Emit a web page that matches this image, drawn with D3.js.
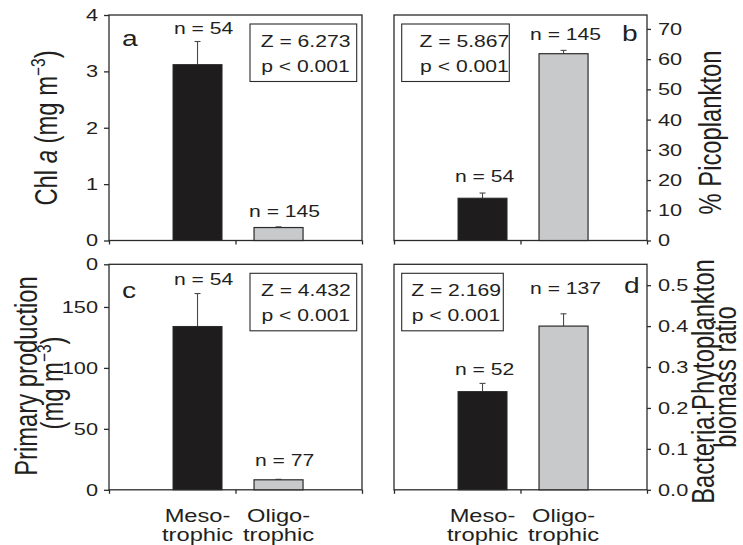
<!DOCTYPE html>
<html>
<head>
<style>
    body { margin: 0; background: white; }
    text { font-family: "Liberation Sans", Arial, Helvetica, sans-serif; fill: #231f20; }
    .frame { fill: none; stroke: #2b2b2b; stroke-width: 1.3; }
    .axis line { stroke: #2b2b2b; stroke-width: 1.3; }
    .axis path { display: none; }
    .meso { fill: #1e1c1c; stroke: #2b2b2b; stroke-width: 1; }
    .oligo { fill: #c8c9cb; stroke: #2b2b2b; stroke-width: 1.2; }
    .err { stroke: #4a4a4a; stroke-width: 1.1; }
    .statbox { fill: white; stroke: #2b2b2b; stroke-width: 1.1; }
</style>
</head>
<body>
<div id="plateau"></div>
<script src="https://cdn.jsdelivr.net/npm/d3@7"></script>
<script>

//////////////////// data ////////////////////
let categories = ['Meso-trophic', 'Oligo-trophic'];
let cat_lines = [['Meso-', 'trophic'], ['Oligo-', 'trophic']];

// a : Chl a
let chl_mean = [3.12, 0.23];
let chl_se = [0.41, 0.012];
let chl_n = [54, 145];
let chl_ticks = [0, 1, 2, 3, 4];
let chl_tick_labels = ['0', '1', '2', '3', '4'];
let chl_max = 4;

// b : % picoplankton
let pico_mean = [14.0, 61.8];
let pico_se = [1.7, 1.1];
let pico_n = [54, 145];
let pico_ticks = [0, 10, 20, 30, 40, 50, 60, 70];
let pico_tick_labels = ['0', '10', '20', '30', '40', '50', '60', '70'];
let pico_max = 74.6;

// c : primary production
let pp_mean = [134, 8.2];
let pp_se = [27, 0.4];
let pp_n = [54, 77];
let pp_ticks = [0, 50, 100, 150, 185];
let pp_tick_labels = ['0', '50', '100', '150', '0'];
let pp_max = 185;

// d : bacteria:phytoplankton
let bp_mean = [0.24, 0.40];
let bp_se = [0.02, 0.03];
let bp_n = [52, 137];
let bp_ticks = [0, 0.1, 0.2, 0.3, 0.4, 0.5];
let bp_tick_labels = ['0.0', '0.1', '0.2', '0.3', '0.4', '0.5'];
let bp_max = 0.551;

let z_values = [6.273, 5.867, 4.432, 2.169];
let p_label = 'p < 0.001';

//////////////////// layout ////////////////////
let W = 743, H = 545;
let SX = 1.28;          // lettering is drawn wider than tall
let PANEL_W = 253, PANEL_H = 225.5;
let COL_X = [109, 394];
let ROW_Y = [15, 264.3];
let TITLE_SIZE = 23.8;

let svg = d3.select('#plateau').append('svg')
    .attr('width', W)
    .attr('height', H);

function stretchText(sel, x, y, rot) {
    sel.attr('transform', `translate(${x},${y}) scale(${SX},1)` + (rot ? ` rotate(${rot})` : ''));
    return sel;
}

//////////////////// panels ////////////////////
genPanel({col: 0, row: 0, mean: chl_mean, se: chl_se, n: chl_n, ticks: chl_ticks, labels: chl_tick_labels, max: chl_max,
    side: 'left', letter: 'a', letterPos: [13, 31], z: z_values[0], box: [141, 106.7, 55.5], nDx: 6, nGap: [7, 10], cats: false});
genPanel({col: 1, row: 0, mean: pico_mean, se: pico_se, n: pico_n, ticks: pico_ticks, labels: pico_tick_labels, max: pico_max,
    side: 'right', letter: 'b', letterPos: [228, 26], z: z_values[1], box: [7.7, 107.6, 62.7], nDx: 2, nGap: [11.5, 10.5], cats: false});
genPanel({col: 0, row: 1, mean: pp_mean, se: pp_se, n: pp_n, ticks: pp_ticks, labels: pp_tick_labels, max: pp_max,
    side: 'left', letter: 'c', letterPos: [13, 33.5], z: z_values[2], box: [141, 106.7, 55.8], nDx: 6, nGap: [9, 13], cats: true});
genPanel({col: 1, row: 1, mean: bp_mean, se: bp_se, n: bp_n, ticks: bp_ticks, labels: bp_tick_labels, max: bp_max,
    side: 'right', letter: 'd', letterPos: [230, 29], z: z_values[3], box: [7.7, 101.6, 54.3], nDx: 2, nGap: [8.5, 20], cats: true});

function genPanel(o) {
    let g = svg.append('g')
        .attr('transform', `translate(${COL_X[o.col]},${ROW_Y[o.row]})`);

    let y = d3.scaleLinear().domain([0, o.max]).range([PANEL_H, 0]);
    let xb = d3.scaleBand().domain(categories)
        .range([PANEL_W * 0.253, PANEL_W * 0.767])
        .paddingInner(0.395);
    let xt = d3.scaleLinear().domain([0, 2]).range([0, PANEL_W]);

    // y axis
    let yAxis = (o.side == 'left' ? d3.axisLeft(y) : d3.axisRight(y))
        .tickValues(o.ticks)
        .tickSize(o.side == 'left' ? 5 : 4)
        .tickFormat((d, i) => o.labels[i]);
    let ya = g.append('g')
        .classed('axis', true)
        .attr('transform', o.side == 'left' ? 'translate(0,0)' : `translate(${PANEL_W},0)`)
        .call(yAxis);
    ya.attr('font-family', null).attr('font-size', 17);
    ya.selectAll('text')
        .attr('x', (o.side == 'left' ? -11 : 11) / SX)
        .attr('transform', `scale(${SX},1)`)
        .style('fill', '#231f20');

    // x axis ticks
    g.append('g')
        .classed('axis', true)
        .attr('transform', `translate(0,${PANEL_H})`)
        .call(d3.axisBottom(xt).tickValues([0, 1, 2]).tickSize(4).tickFormat(''));

    // frame
    g.append('rect')
        .classed('frame', true)
        .attr('width', PANEL_W)
        .attr('height', PANEL_H);

    // bars
    categories.forEach((c, i) => {
        let cx = xb(c) + xb.bandwidth() / 2;
        let top = y(o.mean[i] + o.se[i]);
        g.append('line').classed('err', true)
            .attr('x1', cx).attr('x2', cx)
            .attr('y1', y(o.mean[i])).attr('y2', top);
        g.append('line').classed('err', true)
            .attr('x1', cx - 3).attr('x2', cx + 3)
            .attr('y1', top).attr('y2', top);
        g.append('rect')
            .classed(i == 0 ? 'meso' : 'oligo', true)
            .attr('x', xb(c))
            .attr('y', y(o.mean[i]))
            .attr('width', xb.bandwidth())
            .attr('height', y(0) - y(o.mean[i]));
        stretchText(g.append('text'), cx + o.nDx, top - o.nGap[i])
            .attr('text-anchor', 'middle')
            .attr('font-size', 16.5)
            .text(`n = ${o.n[i]}`);
        if (o.cats) {
            cat_lines[i].forEach((t, k) => {
                stretchText(g.append('text'), cx, PANEL_H + 32 + k * 19)
                    .attr('text-anchor', 'middle')
                    .attr('font-size', 18.5)
                    .text(t);
            });
        }
    });

    // panel letter
    stretchText(g.append('text'), o.letterPos[0], o.letterPos[1])
        .attr('font-size', 22)
        .text(o.letter);

    // stats box
    let b = g.append('g').attr('transform', `translate(${o.box[0]},9)`);
    b.append('rect').classed('statbox', true)
        .attr('width', o.box[1])
        .attr('height', 57.5);
    [`Z = ${d3.format('.3f')(o.z)}`, p_label].forEach((t, k) => {
        stretchText(b.append('text'), o.box[2], 23 + k * 24.5)
            .attr('text-anchor', 'middle')
            .attr('font-size', 16.5)
            .text(t);
    });
}

//////////////////// axis titles ////////////////////
// a
let ta = stretchText(svg.append('text'), 57, 128, -90)
    .attr('text-anchor', 'middle')
    .attr('font-size', TITLE_SIZE);
ta.append('tspan').text('Chl ');
ta.append('tspan').attr('font-style', 'italic').text('a');
ta.append('tspan').text(' (mg m');
ta.append('tspan').attr('font-size', 15.5).attr('dy', -9).text('\u22123');
ta.append('tspan').attr('dy', 9).text(')');

// b
stretchText(svg.append('text'), 721, 132.5, -90)
    .attr('text-anchor', 'middle')
    .attr('font-size', TITLE_SIZE)
    .text('% Picoplankton');

// c
stretchText(svg.append('text'), 36.5, 376, -90)
    .attr('text-anchor', 'middle')
    .attr('font-size', TITLE_SIZE)
    .text('Primary production');
let tc = stretchText(svg.append('text'), 63, 383, -90)
    .attr('text-anchor', 'middle')
    .attr('font-size', TITLE_SIZE);
tc.append('tspan').text('(mg m');
tc.append('tspan').attr('font-size', 15.5).attr('dy', -9).text('\u22123');
tc.append('tspan').attr('dy', 9).text(')');

// d
stretchText(svg.append('text'), 714, 381.5, -90)
    .attr('text-anchor', 'middle')
    .attr('font-size', TITLE_SIZE)
    .text('Bacteria:Phytoplankton');
stretchText(svg.append('text'), 735.5, 377, -90)
    .attr('text-anchor', 'middle')
    .attr('font-size', TITLE_SIZE)
    .text('biomass ratio');

</script>
</body>
</html>
